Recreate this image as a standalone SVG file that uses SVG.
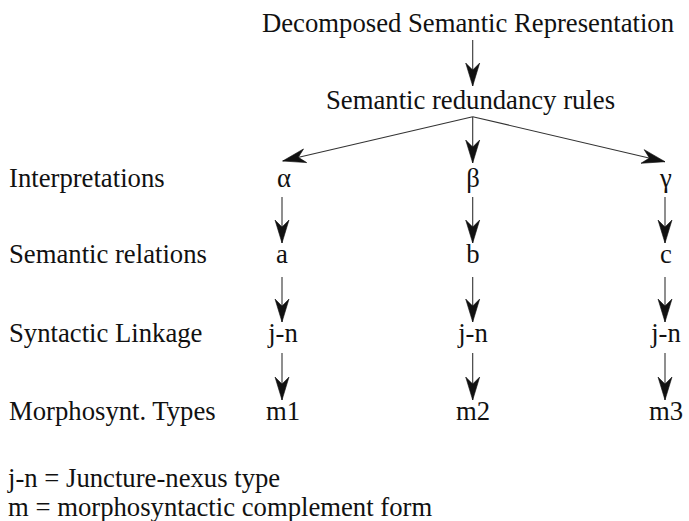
<svg xmlns="http://www.w3.org/2000/svg" width="689" height="521" viewBox="0 0 689 521">
  <defs>
    <style>
      text { font-family: "Liberation Serif", "Times New Roman", serif; font-size: 26.7px; fill: #111; }
      .mid { text-anchor: middle; }
      .edge { stroke: #333; stroke-width: 1.1; fill: none; marker-end: url(#head); }
      .tip { fill: #111; stroke: #111; stroke-width: 0.6; stroke-linejoin: miter; }
    </style>
    <marker id="head" markerUnits="userSpaceOnUse" markerWidth="26" markerHeight="18" refX="24" refY="9" orient="auto" overflow="visible">
      <path class="tip" d="M24,9 L1,2 L8,9 L1,16 Z"/>
    </marker>
  </defs>
  <rect width="689" height="521" fill="#fff"/>

  <g id="dsr"><text x="262" y="32">Decomposed Semantic Representation</text></g>
  <g id="rules"><text x="326" y="109">Semantic redundancy rules</text></g>

  <!-- row labels -->
  <g id="row-interpretations"><text x="9" y="187">Interpretations</text></g>
  <g id="row-relations"><text x="9" y="263">Semantic relations</text></g>
  <g id="row-linkage"><text x="9" y="342">Syntactic Linkage</text></g>
  <g id="row-types"><text x="9" y="420">Morphosynt. Types</text></g>

  <!-- column 1 -->
  <g id="alpha"><text class="mid" x="284" y="187">α</text></g>
  <g id="a"><text class="mid" x="282" y="263">a</text></g>
  <g id="jn1"><text class="mid" x="283" y="342">j-n</text></g>
  <g id="m1"><text class="mid" x="283" y="420">m1</text></g>

  <!-- column 2 -->
  <g id="beta"><text class="mid" x="473" y="187">β</text></g>
  <g id="b"><text class="mid" x="473" y="263">b</text></g>
  <g id="jn2"><text class="mid" x="473" y="342">j-n</text></g>
  <g id="m2"><text class="mid" x="473" y="420">m2</text></g>

  <!-- column 3 -->
  <g id="gamma"><text class="mid" x="666" y="187">γ</text></g>
  <g id="c"><text class="mid" x="666" y="263">c</text></g>
  <g id="jn3"><text class="mid" x="666" y="342">j-n</text></g>
  <g id="m3"><text class="mid" x="666" y="420">m3</text></g>

  <g id="legend">
    <text x="8" y="487">j-n = Juncture-nexus type</text>
    <text x="8" y="516">m = morphosyntactic complement form</text>
  </g>

  <g id="connectors">
    <line class="edge" x1="472.7" y1="40" x2="472.7" y2="86"/>
    <line class="edge" x1="472.7" y1="116.7" x2="282.7" y2="161"/>
    <line class="edge" x1="472.7" y1="116.7" x2="472.7" y2="163"/>
    <line class="edge" x1="472.7" y1="116.7" x2="665" y2="161.7"/>

    <line class="edge" x1="282" y1="197" x2="282" y2="243"/>
    <line class="edge" x1="472.7" y1="197" x2="472.7" y2="243"/>
    <line class="edge" x1="665" y1="197" x2="665" y2="243"/>

    <line class="edge" x1="282" y1="277" x2="282" y2="322"/>
    <line class="edge" x1="472.7" y1="277" x2="472.7" y2="322"/>
    <line class="edge" x1="665" y1="277" x2="665" y2="322"/>

    <line class="edge" x1="282" y1="353" x2="282" y2="400"/>
    <line class="edge" x1="472.7" y1="353" x2="472.7" y2="400"/>
    <line class="edge" x1="665" y1="353" x2="665" y2="400"/>
  </g>
</svg>
